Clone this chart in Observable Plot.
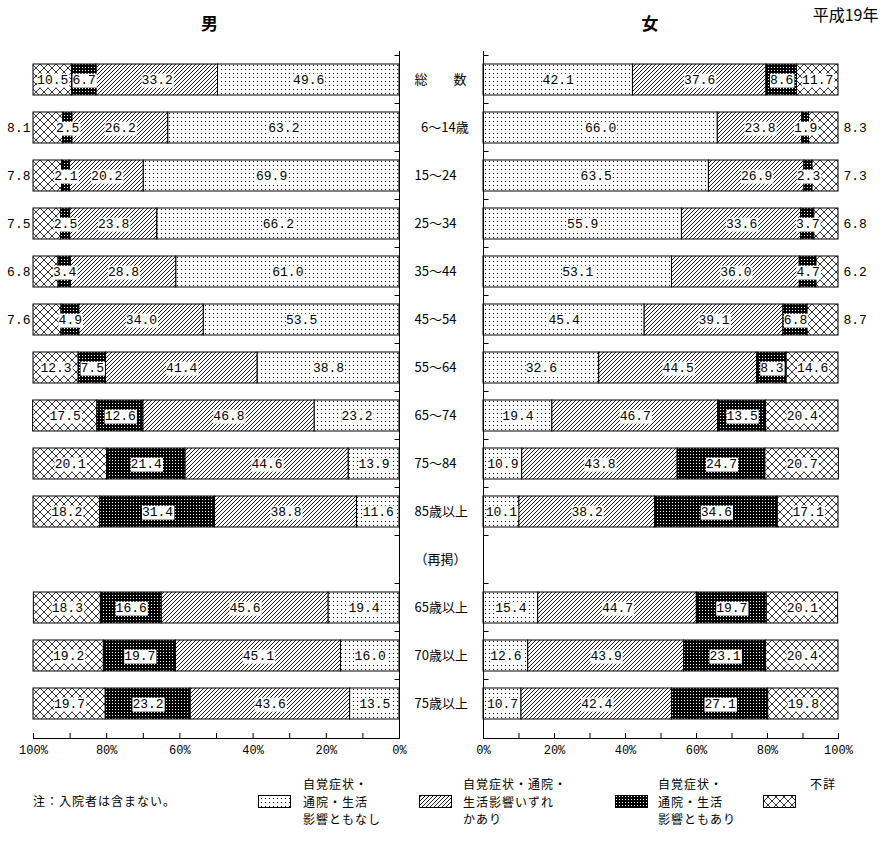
<!DOCTYPE html>
<html><head><meta charset="utf-8">
<script src="https://cdn.jsdelivr.net/npm/d3@7"></script>
<script src="https://cdn.jsdelivr.net/npm/@observablehq/plot@0.6"></script>
<style>
body{margin:0;background:#fff;}
#wrap{position:relative;width:892px;height:852px;overflow:hidden;background:#fff;}
#wrap > svg{position:absolute;top:0;}
</style></head><body><div id="wrap"></div>
<script>
// ---- data ----
const categories = ["総　　数","6～14歳","15～24","25～34","35～44","45～54","55～64","65～74","75～84","85歳以上","（再掲）","65歳以上","70歳以上","75歳以上"];
const seriesNames = ["自覚症状・通院・生活影響ともなし","自覚症状・通院・生活影響いずれかあり","自覚症状・通院・生活影響ともあり","不詳"];
const maleNone   = [49.6,63.2,69.9,66.2,61.0,53.5,38.8,23.2,13.9,11.6,null,19.4,16.0,13.5];
const maleAny    = [33.2,26.2,20.2,23.8,28.8,34.0,41.4,46.8,44.6,38.8,null,45.6,45.1,43.6];
const maleBoth   = [6.7,2.5,2.1,2.5,3.4,4.9,7.5,12.6,21.4,31.4,null,16.6,19.7,23.2];
const maleNA     = [10.5,8.1,7.8,7.5,6.8,7.6,12.3,17.5,20.1,18.2,null,18.3,19.2,19.7];
const femaleNone = [42.1,66.0,63.5,55.9,53.1,45.4,32.6,19.4,10.9,10.1,null,15.4,12.6,10.7];
const femaleAny  = [37.6,23.8,26.9,33.6,36.0,39.1,44.5,46.7,43.8,38.2,null,44.7,43.9,42.4];
const femaleBoth = [8.6,1.9,2.3,3.7,4.7,6.8,8.3,13.5,24.7,34.6,null,19.7,23.1,27.1];
const femaleNA   = [11.7,8.3,7.3,6.8,6.2,8.7,14.6,20.4,20.7,17.1,null,20.1,20.4,19.8];
const xTicks = [0,10,20,30,40,50,60,70,80,90,100];
const xLabelTicks = [0,20,40,60,80,100];
const legendLines = [["自覚症状・","通院・生活","影響ともなし"],["自覚症状・通院・","生活影響いずれ","かあり"],["自覚症状・","通院・生活","影響ともあり"],["不詳"]];
const noteText = "注：入院者は含まない。";
const titleMale = "男", titleFemale = "女", yearText = "平成19年";

// ---- styles ----
const CJK = "'Noto Sans CJK JP', sans-serif";
const MONO = "'Liberation Mono', 'DejaVu Sans Mono', monospace";
const patternIds = ["pNone","pAny","pBoth","pNA"];
const patternOf = s => `url(#${patternIds[seriesNames.indexOf(s)]})`;

const wrap = d3.select("#wrap");
const defsSvg = wrap.append("svg").attr("width",0).attr("height",0);
const defs = defsSvg.append("defs");
function pat(id, w, h) {
  return defs.append("pattern").attr("id", id).attr("patternUnits","userSpaceOnUse").attr("width", w).attr("height", h);
}
let p = pat("pNone", 4, 4);
p.append("rect").attr("width",4).attr("height",4).attr("fill","#fff");
p.append("rect").attr("x",1).attr("y",1).attr("width",1).attr("height",1).attr("fill","#000");
p = pat("pAny", 4, 4);
p.append("rect").attr("width",4).attr("height",4).attr("fill","#fff");
p.append("path").attr("d","M-1,1L1,-1M0,4L4,0M3,5L5,3").attr("stroke","#000").attr("stroke-width",0.9);
p = pat("pBoth", 3, 3);
p.append("rect").attr("width",3).attr("height",3).attr("fill","#000");
p.append("rect").attr("x",1).attr("y",1).attr("width",1).attr("height",1).attr("fill","#fff");
p = pat("pNA", 8, 8);
p.append("rect").attr("width",8).attr("height",8).attr("fill","#fff");
p.append("path").attr("d","M0,0L8,8M8,0L0,8").attr("stroke","#000").attr("stroke-width",0.8);

function buildRows(arrs) {
  const out = [];
  categories.forEach((c, i) => {
    arrs.forEach((a, j) => {
      if (a[i] != null) out.push({cat: c, series: seriesNames[j], value: a[i]});
    });
  });
  return out;
}
const rowsM = buildRows([maleNone, maleAny, maleBoth, maleNA]);
const rowsF = buildRows([femaleNone, femaleAny, femaleBoth, femaleNA]);
const fmt = v => v.toFixed(1);
const outside = d => d.series === seriesNames[3] && d.value < 10;

function bandTicks(dir) {
  return (index, scales) => {
    const y = scales.y, x = scales.x;
    const bw = y.bandwidth ? y.bandwidth() : 31;
    const pi = y.paddingInner ? y.paddingInner() : 0.36;
    const step = y.step ? y.step() : bw / (1 - pi);
    const x0 = Math.round(x(0)) + 0.5;
    const g = d3.create("svg:g").attr("stroke", "#000").attr("stroke-width", 1);
    for (const c of categories) {
      const yy = Math.round(y(c) - step * pi / 2) + 0.5;
      g.append("line").attr("x1", x0).attr("x2", x0 + dir * 5).attr("y1", yy).attr("y2", yy);
    }
    return g.node();
  };
}

function panel(rows, side) {
  const isLeft = side === "left";
  const stackOpts = {x: "value", y: "cat", z: "series", order: seriesNames};
  const marks = [
    Plot.barX(rows, Plot.stackX({...stackOpts, fill: d => patternOf(d.series), stroke: "#000", strokeWidth: 1})),
    Plot.text(rows, Plot.stackX({...stackOpts, text: d => outside(d) ? null : fmt(d.value), ariaDescription: "seglabel", fill: "#000", fontFamily: MONO, fontSize: 13, letterSpacing: -0.8})),
    Plot.text(rows, Plot.stackX2({...stackOpts, text: d => outside(d) ? fmt(d.value) : null, textAnchor: isLeft ? "end" : "start", dx: isLeft ? -3 : 5, fill: "#000", fontFamily: MONO, fontSize: 13, letterSpacing: -0.8})),
    Plot.ruleX([0], {stroke: "#000"}),
    Plot.frame({anchor: "bottom", stroke: "#000"}),
    bandTicks(isLeft ? -1 : 1),
    Plot.axisX({ticks: xTicks, tickFormat: d => xLabelTicks.includes(d) ? d + "%" : "", tickSize: -5, tickPadding: 12, label: null, fontFamily: MONO, fontSize: 12, letterSpacing: -0.8}),
    Plot.text([isLeft ? titleMale : titleFemale], {frameAnchor: "top", lineAnchor: "middle", dy: -27, dx: isLeft ? -7 : -11, fontSize: 17, fontWeight: "bold", fontFamily: CJK})
  ];
  if (isLeft) {
    marks.push(Plot.axisY({anchor: "right", tickSize: 0, tickPadding: 15, textAnchor: "start", label: null, fontFamily: CJK, fontSize: 13,
      tickFormat: d => d.startsWith("6～") ? "\u2002" + d : d}));
  } else {
    marks.push(Plot.text([yearText], {frameAnchor: "top-right", lineAnchor: "middle", textAnchor: "end", dx: 40, dy: -36, fontSize: 16, fontFamily: CJK}));
  }
  return Plot.plot({
    width: isLeft ? 476 : 416,
    height: 765,
    marginLeft: isLeft ? 33 : 7,
    marginRight: isLeft ? 77 : 54,
    marginTop: 51,
    marginBottom: 27,
    style: {background: "transparent", fontFamily: MONO, fontSize: "12px", color: "#000"},
    x: {domain: [0, 100], reverse: isLeft, label: null},
    y: {domain: categories, paddingInner: 0.36, paddingOuter: 0.18, insetBottom: 6, label: null, axis: isLeft ? undefined : null},
    color: {type: "identity"},
    marks
  });
}

const left = panel(rowsM, "left");
const right = panel(rowsF, "right");
wrap.node().appendChild(left);
wrap.node().appendChild(right);
d3.select(left).style("left", "0px");
d3.select(right).style("left", "476px");

// white boxes behind segment labels
function addBoxes(svg) {
  let texts = svg.querySelectorAll('g[aria-description="seglabel"] text');
  texts.forEach(t => {
    if (!t.textContent) return;
    const b = t.getBBox();
    const r = document.createElementNS("http://www.w3.org/2000/svg", "rect");
    const tr = t.getAttribute("transform");
    if (tr) r.setAttribute("transform", tr);
    r.setAttribute("x", b.x);
    r.setAttribute("y", b.y + 0.5);
    r.setAttribute("width", b.width + 1);
    r.setAttribute("height", b.height - 1);
    r.setAttribute("fill", "#fff");
    t.parentNode.insertBefore(r, t);
  });
}
addBoxes(left);
addBoxes(right);

// legend
const lg = wrap.append("svg").attr("width", 892).attr("height", 87).style("left", "0px").style("top", "765px")
  .style("font-family", CJK).style("font-size", "12px").style("letter-spacing", "1px");
lg.append("text").attr("x", 33).attr("y", 37).attr("dy", "0.35em").text(noteText);
const swX = [258, 419, 615, 763];
const txX = [303, 463, 658, 810];
seriesNames.forEach((s, i) => {
  lg.append("rect").attr("x", swX[i] + 0.5).attr("y", 30.5).attr("width", 32).attr("height", 12)
    .attr("fill", patternOf(s)).attr("stroke", "#000");
  legendLines[i].forEach((line, k) => {
    lg.append("text").attr("x", txX[i]).attr("y", 20 + k * 17.5).attr("dy", "0.35em").text(line);
  });
});
</script></body></html>
